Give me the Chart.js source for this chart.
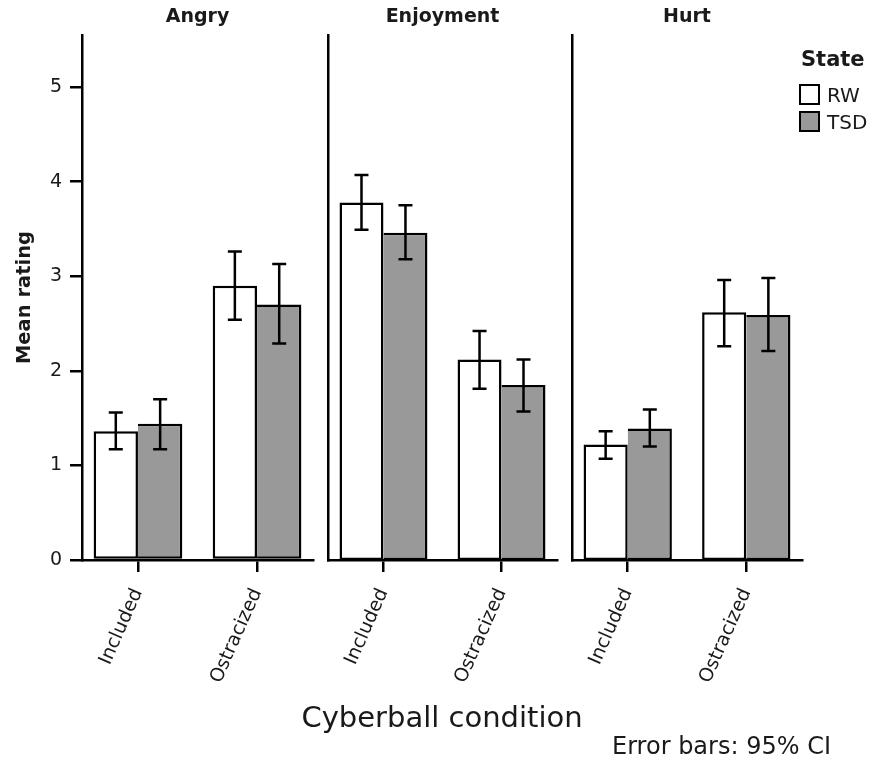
<!DOCTYPE html>
<html>
<head>
<meta charset="utf-8">
<script src="https://cdn.jsdelivr.net/npm/chart.js@4.4.1/dist/chart.umd.min.js"></script>
<style>
    html, body { margin: 0; padding: 0; background: #fff; }
    #wrap { position: relative; width: 891px; height: 759px; overflow: hidden; font-family: 'DejaVu Sans', sans-serif; color: #1a1a1a; }
    #wrap canvas { position: absolute; left: 0; top: 0; }
    #legend { position: absolute; left: 799px; top: 46px; }
    #legend .title { font-weight: bold; font-size: 21px; line-height: 26px; margin-left: 2px; margin-bottom: 9px; }
    #legend .item { height: 27px; display: flex; align-items: center; font-size: 20px; }
    #legend .box { width: 21px; height: 21px; box-sizing: border-box; border: 2px solid #000; margin-right: 7px; }
    #xtitle { position: absolute; left: 242px; width: 400px; top: 700px; text-align: center; font-size: 29px; line-height: 34px; white-space: nowrap; }
    #note { position: absolute; left: 612px; top: 732px; font-size: 24px; white-space: nowrap; }
</style>
</head>
<body>
<div id="wrap">
    <canvas id="panel0" width="891" height="759"></canvas>
    <canvas id="panel1" width="891" height="759"></canvas>
    <canvas id="panel2" width="891" height="759"></canvas>
    <div id="legend"></div>
    <div id="xtitle">Cyberball condition</div>
    <div id="note">Error bars: 95% CI</div>
</div>
<script>
const panels = ['Angry', 'Enjoyment', 'Hurt'];
const conditions = ['Included', 'Ostracized'];
const states = ['RW', 'TSD'];
const stateColors = ['#ffffff', '#999999'];
const yTicks = [0, 1, 2, 3, 4, 5];
const yMax = 5.55;

// means per panel: [Included, Ostracized]
const rwMean = [[1.36, 2.90], [3.78, 2.12], [1.22, 2.62]];
const tsdMean = [[1.44, 2.70], [3.46, 1.85], [1.39, 2.59]];
// 95% CI bounds
const rwLow = [[1.17, 2.54], [3.49, 1.81], [1.07, 2.26]];
const rwHigh = [[1.56, 3.26], [4.07, 2.42], [1.36, 2.96]];
const tsdLow = [[1.17, 2.29], [3.18, 1.57], [1.20, 2.21]];
const tsdHigh = [[1.70, 3.13], [3.75, 2.12], [1.59, 2.98]];

const FONT = "'DejaVu Sans', sans-serif";
const TEXT = '#1a1a1a';

// plot area left/right edge of each facet
const areaLeft = [82, 328, 572];
const areaRight = [313, 557, 802];

// conditions sit at x = 1, 2 on a linear axis, with a little expansion either side
const xMin = 0.53;
const xMax = 2.47;

const errorBars = {
    id: 'errorBars',
    afterDatasetsDraw(chart) {
        const ctx = chart.ctx;
        const yScale = chart.scales.y;
        ctx.save();
        ctx.strokeStyle = '#000';
        ctx.lineWidth = 2.5;
        chart.data.datasets.forEach((ds, di) => {
            const meta = chart.getDatasetMeta(di);
            meta.data.forEach((bar, i) => {
                const lo = yScale.getPixelForValue(ds.errLow[i]);
                const hi = yScale.getPixelForValue(ds.errHigh[i]);
                const x = bar.x;
                ctx.beginPath();
                ctx.moveTo(x, lo);
                ctx.lineTo(x, hi);
                ctx.moveTo(x - 7, lo);
                ctx.lineTo(x + 7, lo);
                ctx.moveTo(x - 7, hi);
                ctx.lineTo(x + 7, hi);
                ctx.stroke();
            });
        });
        ctx.restore();
    }
};

function toPoints(values) {
    return values.map((v, i) => ({ x: i + 1, y: v }));
}

function makePanel(p) {
    const first = p === 0;
    const ctx = document.getElementById('panel' + p).getContext('2d');
    return new Chart(ctx, {
        type: 'bar',
        data: {
            datasets: [{
                label: states[0],
                data: toPoints(rwMean[p]),
                errLow: rwLow[p],
                errHigh: rwHigh[p],
                backgroundColor: stateColors[0],
                borderColor: '#000',
                borderWidth: 2.5,
                borderSkipped: false
            }, {
                label: states[1],
                data: toPoints(tsdMean[p]),
                errLow: tsdLow[p],
                errHigh: tsdHigh[p],
                backgroundColor: stateColors[1],
                borderColor: '#000',
                borderWidth: 2.5,
                borderSkipped: 'left'
            }]
        },
        options: {
            responsive: false,
            animation: false,
            categoryPercentage: 0.745,
            barPercentage: 1.0,
            layout: {
                padding: {
                    top: 0,
                    bottom: 0,
                    left: first ? 0 : areaLeft[p],
                    right: 891 - areaRight[p]
                }
            },
            plugins: {
                legend: { display: false },
                tooltip: { enabled: false },
                title: {
                    display: true,
                    fullSize: false,
                    text: panels[p],
                    color: TEXT,
                    font: { family: FONT, size: 19, weight: 'bold', lineHeight: 1.2 },
                    padding: { top: 6, bottom: 6.2 }
                }
            },
            scales: {
                x: {
                    type: 'linear',
                    min: xMin,
                    max: xMax,
                    offset: false,
                    afterBuildTicks: scale => {
                        scale.ticks = conditions.map((c, i) => ({ value: i + 1 }));
                    },
                    grid: {
                        display: true,
                        drawOnChartArea: false,
                        drawTicks: true,
                        tickLength: 12,
                        offset: false,
                        color: '#000',
                        lineWidth: 2.5
                    },
                    border: { display: true, color: '#000', width: 2.5 },
                    ticks: {
                        color: TEXT,
                        font: { family: FONT, size: 19 },
                        minRotation: 66,
                        maxRotation: 66,
                        padding: 13,
                        callback: v => conditions[Math.round(v) - 1]
                    },
                    afterFit: scale => { scale.height = 199; }
                },
                y: {
                    min: 0,
                    max: yMax,
                    afterBuildTicks: scale => {
                        scale.ticks = yTicks.map(v => ({ value: v }));
                    },
                    ticks: {
                        display: first,
                        color: TEXT,
                        font: { family: FONT, size: 19 },
                        padding: 8
                    },
                    grid: {
                        display: first,
                        drawOnChartArea: false,
                        drawTicks: true,
                        tickLength: 12,
                        color: '#000',
                        lineWidth: 2.5
                    },
                    border: { display: true, color: '#000', width: 2.5 },
                    title: {
                        display: first,
                        text: 'Mean rating',
                        color: TEXT,
                        font: { family: FONT, size: 19.5, weight: 'bold' },
                        padding: { top: 13, bottom: 0 }
                    },
                    afterFit: scale => { scale.width = first ? areaLeft[0] : 0; }
                }
            }
        },
        plugins: [errorBars]
    });
}

panels.forEach((name, p) => makePanel(p));

// legend built from the series
const legend = document.getElementById('legend');
const lt = document.createElement('div');
lt.className = 'title';
lt.textContent = 'State';
legend.appendChild(lt);
states.forEach((s, i) => {
    const item = document.createElement('div');
    item.className = 'item';
    const box = document.createElement('span');
    box.className = 'box';
    box.style.background = stateColors[i];
    item.appendChild(box);
    item.appendChild(document.createTextNode(s));
    legend.appendChild(item);
});
</script>
</body>
</html>
